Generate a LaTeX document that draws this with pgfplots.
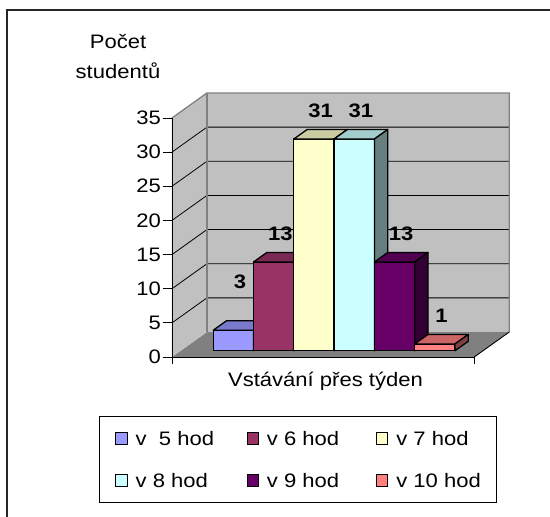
\documentclass[border=0pt]{standalone}
\usepackage{pgfplots}
\pgfplotsset{compat=1.18}
\usepackage{fontspec}
\setmainfont{Liberation Sans}[FakeStretch=1.13]
\usetikzlibrary{calc}
\definecolor{cA}{HTML}{9999FF}
\definecolor{cB}{HTML}{993366}
\definecolor{cC}{HTML}{FFFFCC}
\definecolor{cD}{HTML}{CCFFFF}
\definecolor{cE}{HTML}{660066}
\definecolor{cF}{HTML}{FF8080}
\definecolor{wallgray}{HTML}{C0C0C0}
\definecolor{floorgray}{HTML}{808080}
\definecolor{edgegray}{HTML}{808080}
\newcommand\chartfont{\fontsize{19.5}{23}\selectfont}
% #1 category index, #2 value, #3 colour
\newcommand\ThreeDBar[3]{%
  \pgfmathsetmacro\xa{#1-0.194}\pgfmathsetmacro\xb{#1+0.806}%
  \addplot3[forget plot, fill=#3, draw=black, line width=1.3pt, line join=round]
    coordinates {(\xa,0.25,0) (\xb,0.25,0) (\xb,0.25,#2) (\xa,0.25,#2)} -- cycle;
  \addplot3[forget plot, fill=#3!80!black, draw=black, line width=1.3pt, line join=round]
    coordinates {(\xa,0.25,#2) (\xb,0.25,#2) (\xb,0.63,#2) (\xa,0.63,#2)} -- cycle;
  \addplot3[forget plot, fill=#3!50!black, draw=black, line width=1.3pt, line join=round]
    coordinates {(\xb,0.25,0) (\xb,0.63,0) (\xb,0.63,#2) (\xb,0.25,#2)} -- cycle;
}
\begin{document}
\begin{tikzpicture}
\begin{axis}[
  x={(40.3pt,0pt)}, y={(35pt,25pt)}, z={(0pt,6.83pt)},
  xmin=0, xmax=7.5, ymin=0, ymax=1, zmin=0, zmax=35,
  clip=false, axis on top,
  axis lines*=left,
  x axis line style={black, line width=0.9pt},
  y axis line style={draw=none},
  z axis line style={black, line width=0.9pt},
  xtick=\empty, ytick=\empty, ztick=\empty,
  /pgf/number format/assume math mode=true,
  legend columns=3,
  legend cell align=left,
  legend style={at={(axis cs:-1.8114,0,-8.638)}, anchor=north west,
    draw=black, line width=0.8pt, font=\chartfont,
    inner xsep=16pt, inner ysep=15pt, row sep=28pt, column sep=8pt,
    /tikz/every even column/.append style={column sep=11pt},
    nodes={inner sep=0pt, text height=14pt, text depth=0pt}},
  legend image code/.code={\draw[#1, draw=black, line width=0.8pt] (0pt,-5.75pt) rectangle (11.5pt,5.75pt);},
]
% floor and walls
\fill[floorgray] (axis cs:0,0,0) -- (axis cs:7.5,0,0) -- (axis cs:7.5,1,0) -- (axis cs:0,1,0) -- cycle;
\fill[wallgray] (axis cs:0,1,0) -- (axis cs:7.5,1,0) -- (axis cs:7.5,1,35) -- (axis cs:0,1,35) -- cycle;
\fill[wallgray] (axis cs:0,0,0) -- (axis cs:0,1,0) -- (axis cs:0,1,35) -- (axis cs:0,0,35) -- cycle;
\pgfplotsinvokeforeach{5,10,...,30}{
  \draw[black, line width=0.8pt] (axis cs:0,0,#1) -- (axis cs:0,1,#1) -- (axis cs:7.5,1,#1);
}
\draw[edgegray, line width=1.3pt] (axis cs:0,0,35) -- (axis cs:0,1,35) -- (axis cs:7.5,1,35) -- (axis cs:7.5,1,0);
\draw[edgegray, line width=1.1pt] (axis cs:0,1,0) -- (axis cs:0,1,35);
\draw[black, line width=0.9pt] (axis cs:7.5,0,0) -- (axis cs:7.5,1,0);
\draw[black, line width=0.9pt] (axis cs:0,0,0) -- ++(0pt,-7pt);
\draw[black, line width=0.9pt] (axis cs:7.5,0,0) -- ++(0pt,-7pt);
% value axis ticks and tick labels
\pgfplotsinvokeforeach{0,5,...,35}{
  \draw[black, line width=0.9pt] (axis cs:0,0,#1) -- ++(-9pt,0pt);
  \node[font=\chartfont, anchor=east, inner sep=0pt, xshift=-11pt] at (axis cs:0,0,#1) {#1};
}
% bars: index, value, colour
\ThreeDBar{1}{3}{cA}
\ThreeDBar{2}{13}{cB}
\ThreeDBar{3}{31}{cC}
\ThreeDBar{4}{31}{cD}
\ThreeDBar{5}{13}{cE}
\ThreeDBar{6}{1}{cF}
% data labels
\addplot3[forget plot, draw=none, mark=none, point meta=z, nodes near coords,
  nodes near coords style={font=\chartfont\bfseries, anchor=center, yshift=43.5pt}]
  coordinates {(1.306,0.44,3)};
\addplot3[forget plot, draw=none, mark=none, point meta=z, nodes near coords,
  nodes near coords style={font=\chartfont\bfseries, anchor=center, yshift=23.5pt}]
  coordinates {(2.306,0.44,13) (3.306,0.44,31) (4.306,0.44,31) (5.306,0.44,13) (6.306,0.44,1)};
% legend
\addlegendimage{fill=cA}\addlegendentry{\makebox[100pt][l]{v\ \ 5 hod}}
\addlegendimage{fill=cB}\addlegendentry{\makebox[98pt][l]{v 6 hod}}
\addlegendimage{fill=cC}\addlegendentry{v 7 hod}
\addlegendimage{fill=cD}\addlegendentry{\makebox[100pt][l]{v 8 hod}}
\addlegendimage{fill=cE}\addlegendentry{\makebox[98pt][l]{v 9 hod}}
\addlegendimage{fill=cF}\addlegendentry{v 10 hod}
\coordinate (O) at (axis cs:0,0,0);
\end{axis}
\pgfresetboundingbox
\begin{scope}[shift={($(O)+(-172pt,357pt)$)}, x=1pt, y=-1pt]
  \useasboundingbox (0,0) rectangle (550,517);
  \draw[black!85, line width=1.3pt] (7,520) -- (7,10) -- (553,10);
  \node[font=\chartfont, anchor=base, inner sep=0pt] at (118,49) {Počet};
  \node[font=\chartfont, anchor=base, inner sep=0pt] at (118,79) {studentů};
  \node[font=\chartfont, anchor=base, inner sep=0pt] at (325.5,387) {Vstávání přes týden};
\end{scope}
\end{tikzpicture}
\end{document}
